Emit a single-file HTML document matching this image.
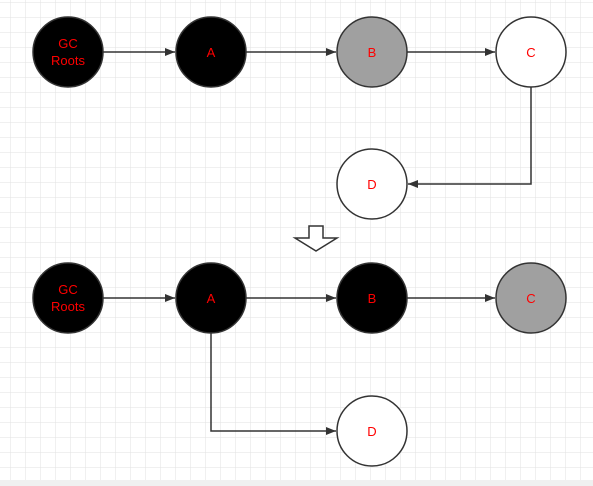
<!DOCTYPE html>
<html><head><style>
html,body{margin:0;padding:0;background:#fff}
svg{display:block}
text{font-family:"Liberation Sans",sans-serif;font-size:13px;fill:#f00;text-anchor:middle}
</style></head><body>
<svg width="593" height="486" xmlns="http://www.w3.org/2000/svg">
<defs>
<pattern id="g" x="10" y="2" width="15" height="15" patternUnits="userSpaceOnUse">
<path d="M0 0H15M0 0V15" stroke="#e2e2e2" stroke-width="1" fill="none"/>
</pattern>
<marker id="ar" markerWidth="10" markerHeight="8" refX="10" refY="4" orient="auto" markerUnits="userSpaceOnUse">
<path d="M0 0L10 4L0 8Z" fill="#333"/>
</marker>
</defs>
<rect width="593" height="486" fill="url(#g)"/>
<rect y="480" width="593" height="6" fill="#f0f0f0"/>
<g stroke="#333" stroke-width="1.5" fill="none" marker-end="url(#ar)">
<path d="M103 52H175"/><path d="M246 52H336"/><path d="M407 52H495"/>
<path d="M531 87V184H408"/>
<path d="M103 298H175"/><path d="M246 298H336"/><path d="M407 298H495"/>
<path d="M211 333V431H336"/>
</g>
<g stroke="#333" stroke-width="1.5">
<circle cx="68" cy="52" r="35" fill="#000"/>
<circle cx="211" cy="52" r="35" fill="#000"/>
<circle cx="372" cy="52" r="35" fill="#a0a0a0"/>
<circle cx="531" cy="52" r="35" fill="#fff"/>
<circle cx="372" cy="184" r="35" fill="#fff"/>
<circle cx="68" cy="298" r="35" fill="#000"/>
<circle cx="211" cy="298" r="35" fill="#000"/>
<circle cx="372" cy="298" r="35" fill="#000"/>
<circle cx="531" cy="298" r="35" fill="#a0a0a0"/>
<circle cx="372" cy="431" r="35" fill="#fff"/>
</g>
<path d="M309 226H323V238H337L316 251L295 238H309Z" fill="#fff" stroke="#333" stroke-width="1.5"/>
<text x="68" y="48">GC</text><text x="68" y="65">Roots</text>
<text x="211" y="57">A</text><text x="372" y="57">B</text><text x="531" y="57">C</text><text x="372" y="189">D</text>
<text x="68" y="294">GC</text><text x="68" y="311">Roots</text>
<text x="211" y="303">A</text><text x="372" y="303">B</text><text x="531" y="303">C</text><text x="372" y="436">D</text>
</svg>
</body></html>
